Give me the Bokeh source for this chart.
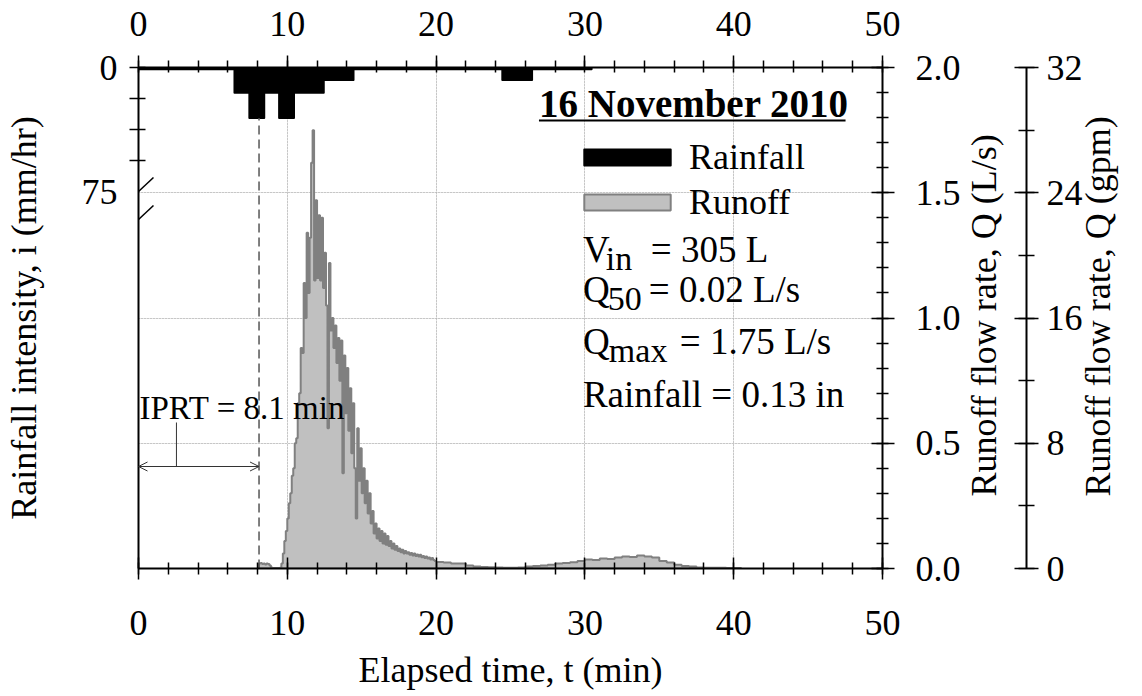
import math
from bokeh.plotting import figure
from bokeh.models import (Range1d, LinearAxis, SingleIntervalTicker, FixedTicker,
                          PrintfTickFormatter, Grid, Label, Arrow, OpenHead,
                          Legend, LegendItem)
from bokeh.embed import file_html
from bokeh.resources import INLINE

# ---------------- data ----------------
event_date = "16 November 2010"
# rainfall hyetograph (1-min bins, mm/hr)
rain_start = [0.0, 6.45, 7.45, 8.45, 9.45, 10.45, 12.45, 14.45, 24.45, 26.45]
rain_end = [6.45, 7.45, 8.45, 9.45, 10.45, 12.45, 14.45, 24.45, 26.45, 30.45]
rain_int = [1.0, 15.24, 30.48, 15.24, 30.48, 15.24, 7.62, 1.0, 7.62, 1.0]

# runoff hydrograph (L/s): 0.1-min samples from 8.0 to 20.0 min
q_fine = [
    0.000, 0.020, 0.022, 0.018, 0.020, 0.016, 0.020, 0.018, 0.012, 0.004,
    0.002, 0.002, 0.002, 0.002, 0.002, 0.003, 0.020, 0.060, 0.110, 0.150,
    0.200, 0.260, 0.300, 0.370, 0.400, 0.500, 0.520, 0.660, 0.700, 0.880,
    0.860, 1.140, 1.000, 1.340, 1.100, 1.320, 1.620, 1.750, 1.150, 1.470,
    1.160, 1.410, 1.150, 1.400, 1.120, 1.260, 1.050, 0.560, 1.220, 0.950,
    1.000, 0.880, 0.970, 0.820, 0.920, 0.750, 0.910, 0.380, 0.850, 0.620,
    0.800, 0.550, 0.720, 0.460, 0.660, 0.400, 0.200, 0.560, 0.350, 0.480,
    0.300, 0.400, 0.260, 0.350, 0.220, 0.300, 0.180, 0.230, 0.140, 0.180,
    0.120, 0.160, 0.110, 0.150, 0.100, 0.140, 0.095, 0.130, 0.090, 0.110,
    0.080, 0.100, 0.075, 0.090, 0.070, 0.080, 0.065, 0.075, 0.060, 0.070,
    0.060, 0.065, 0.055, 0.062, 0.052, 0.060, 0.050, 0.056, 0.048, 0.055,
    0.045, 0.050, 0.042, 0.048, 0.040, 0.044, 0.036, 0.042, 0.034, 0.030,
    0.026,
]
t_fine_start, t_fine_step = 8.0, 0.1
# 0.5-min samples from 20.5 to 40.5 min
q_tail = [
    0.024, 0.020, 0.020, 0.012, 0.008, 0.006, 0.005, 0.004, 0.003, 0.003,
    0.004, 0.008, 0.010, 0.012, 0.015, 0.020, 0.022, 0.025, 0.030, 0.036,
    0.034, 0.040, 0.038, 0.044, 0.048, 0.046, 0.052, 0.048, 0.044, 0.030,
    0.024, 0.015, 0.010, 0.008, 0.004, 0.003, 0.003, 0.003, 0.002, 0.002,
    0.000,
]
t_tail_start, t_tail_step = 20.5, 0.5

iprt = 8.1
v_in = 305
q50 = 0.02
qmax = 1.75
rain_total_in = 0.13

x_ticks_interval = 10
q_ticks_interval = 0.5
gpm_ticks_interval = 8
rain_tick_labels = [0, 75]

# ---------------- layout constants ----------------
W, H = 1142, 696
FL, FR, FT, FB = 137, 882, 67, 568
X_MAX, Q_MAX, GPM_MAX, RAIN_MAX = 50, 2.0, 32, 303
FONT = "Liberation Serif"


def dx(px):
    return (px - FL) / (FR - FL) * X_MAX


def dy(py):
    return (FB - py) / (FB - FT) * Q_MAX


def rain_to_q(r):
    return (RAIN_MAX - r) / RAIN_MAX * Q_MAX


t_q = [round(t_fine_start + t_fine_step * i, 3) for i in range(len(q_fine))]
t_q += [round(t_tail_start + t_tail_step * i, 3) for i in range(len(q_tail))]
q_all = q_fine + q_tail

# step outline of the hydrograph
px_ = [t_q[0]]
py_ = [0.0]
for i in range(len(t_q) - 1):
    px_ += [t_q[i], t_q[i + 1]]
    py_ += [q_all[i], q_all[i]]
px_ += [t_q[-1], t_q[-1]]
py_ += [q_all[-1], 0.0]

# ---------------- figure ----------------
p = figure(width=W, height=H, x_range=Range1d(0, X_MAX), y_range=Range1d(0, Q_MAX),
           output_backend="svg", toolbar_location=None, title=None,
           x_axis_location=None, y_axis_location=None,
           min_border_left=FL, min_border_right=W - FR,
           min_border_top=FT, min_border_bottom=H - FB,
           outline_line_color=None, background_fill_color="white",
           border_fill_color="white")
p.extra_y_ranges = {"rain": Range1d(start=RAIN_MAX, end=0),
                    "gpm": Range1d(start=0, end=GPM_MAX)}


def style(ax):
    ax.axis_line_width = 2
    ax.axis_line_color = "black"
    ax.major_tick_line_width = 1.5
    ax.minor_tick_line_width = 1.5
    ax.major_tick_line_color = "black"
    ax.minor_tick_line_color = "black"
    ax.major_label_text_font = FONT
    ax.major_label_text_font_size = "36px"
    ax.major_label_text_color = "black"
    ax.axis_label_text_font = FONT
    ax.axis_label_text_font_size = "36px"
    ax.axis_label_text_font_style = "normal"
    ax.axis_label_text_color = "black"
    ax.axis_label_text_line_height = 1.0


PAD = "\u00a0" * 8


def upright(ax, text):
    # right-hand axis titles read bottom-to-top, like the left one
    props = ax.properties()
    if "axis_label_orientation" in props and "axis_label_align" in props:
        ax.axis_label_orientation = math.pi / 2
        ax.axis_label_align = "start"
        ax.axis_label = PAD + text
    else:
        ax.axis_label = text


xb = LinearAxis(ticker=SingleIntervalTicker(interval=x_ticks_interval, num_minor_ticks=5),
                major_tick_in=11, major_tick_out=11, minor_tick_in=6, minor_tick_out=6,
                major_label_standoff=31, axis_label="Elapsed time, t (min)",
                axis_label_standoff=12)
style(xb)
p.add_layout(xb, "below")

xt = LinearAxis(ticker=SingleIntervalTicker(interval=x_ticks_interval, num_minor_ticks=5),
                major_tick_in=0, major_tick_out=12, minor_tick_in=5, minor_tick_out=7,
                major_label_standoff=20)
style(xt)
p.add_layout(xt, "above")

step = rain_tick_labels[1] / 4
yl = LinearAxis(y_range_name="rain",
                ticker=FixedTicker(ticks=rain_tick_labels,
                                   minor_ticks=[0, step, 2 * step, 3 * step]),
                major_tick_in=0, major_tick_out=0, minor_tick_in=7, minor_tick_out=9,
                major_label_standoff=12, axis_label="Rainfall intensity, i (mm/hr)",
                axis_label_standoff=35)
style(yl)
p.add_layout(yl, "left")

yr = LinearAxis(ticker=SingleIntervalTicker(interval=q_ticks_interval, num_minor_ticks=5),
                formatter=PrintfTickFormatter(format="%.1f"),
                major_tick_in=11, major_tick_out=12, minor_tick_in=6, minor_tick_out=6,
                major_label_standoff=21, axis_label_standoff=20)
style(yr)
upright(yr, "Runoff flow rate, Q (L/s)")
p.add_layout(yr, "right")

yg = LinearAxis(y_range_name="gpm",
                ticker=SingleIntervalTicker(interval=gpm_ticks_interval, num_minor_ticks=2),
                major_tick_in=12, major_tick_out=12, minor_tick_in=8, minor_tick_out=8,
                major_label_standoff=8, axis_label_standoff=12)
style(yg)
upright(yg, "Runoff flow rate, Q (gpm)")
p.add_layout(yg, "right")

for dim, tk in ((0, SingleIntervalTicker(interval=x_ticks_interval)),
                (1, SingleIntervalTicker(interval=q_ticks_interval))):
    p.add_layout(Grid(dimension=dim, ticker=tk, grid_line_color="#a8a8a8",
                      grid_line_dash="1 2", grid_line_width=1))

# ---------------- glyphs ----------------
runoff_r = p.patch(px_, py_, fill_color="#c0c0c0", line_color="#808080", line_width=2)

rain_r = p.quad(left=rain_start, right=rain_end, top=[0] * len(rain_int), bottom=rain_int,
                y_range_name="rain", fill_color="black", line_color="black",
                line_width=2, line_join="round")

# IPRT marker
i_bar = [r for s, e, r in zip(rain_start, rain_end, rain_int) if s <= iprt < e][0]
p.segment(x0=[iprt], y0=[0], x1=[iprt], y1=[rain_to_q(i_bar)], line_color="#555555",
          line_width=1.5, line_dash="9 5")
ya = dy(466)
p.add_layout(Arrow(x_start=0, y_start=ya, x_end=iprt, y_end=ya,
                   start=OpenHead(size=9, line_width=1, line_color="#333333"),
                   end=OpenHead(size=9, line_width=1, line_color="#333333"),
                   line_width=1, line_color="#333333"))
p.segment(x0=[dx(175)], y0=[dy(422)], x1=[dx(175)], y1=[ya], line_color="#333333",
          line_width=1)

# axis break marks
for y0, y1 in ((205, 177), (233, 205)):
    p.add_layout(Arrow(x_start=dx(122), y_start=dy(y0), x_end=dx(152), y_end=dy(y1),
                       start=None, end=None, line_width=1.5, line_color="black"))

# ---------------- legend ----------------
legend = Legend(items=[LegendItem(label="Rainfall", renderers=[rain_r]),
                       LegendItem(label="Runoff", renderers=[runoff_r])],
                location=(572 - FL, FB - 223), glyph_width=108, glyph_height=20,
                label_standoff=8, spacing=3, padding=0, margin=0,
                border_line_color=None, background_fill_alpha=0,
                label_text_font=FONT, label_text_font_size="36px",
                label_text_color="black")
p.add_layout(legend)


# ---------------- annotation text ----------------
def lab(x, base_y, text, size=37, **kw):
    # base_y: wanted baseline in pixels; Bokeh draws ~0.3 em lower
    p.add_layout(Label(x=dx(x), y=dy(base_y - 0.3 * size), text=text, text_font=FONT,
                       text_font_size=f"{size}px", text_baseline="alphabetic",
                       text_color="black", **kw))


lab(538, 115, event_date, size=39, text_font_style="bold")
p.segment(x0=[dx(538)], y0=[dy(120)], x1=[dx(845)], y1=[dy(120)], line_color="black",
          line_width=2)
lab(582, 260, "V")
lab(605, 268, "in", size=34)
lab(650, 260, f"= {v_in} L")
lab(582, 300, "Q")
lab(607, 309, "50", size=34)
lab(648, 300, f"= {q50:.2f} L/s")
lab(582, 352, "Q")
lab(608, 360, "max", size=34)
lab(679, 352, f"= {qmax:.2f} L/s")
lab(582, 405, f"Rainfall = {rain_total_in:.2f} in")
lab(138, 417, f"IPRT = {iprt} min", size=33)

open("out.html", "w").write(file_html(p, INLINE))
